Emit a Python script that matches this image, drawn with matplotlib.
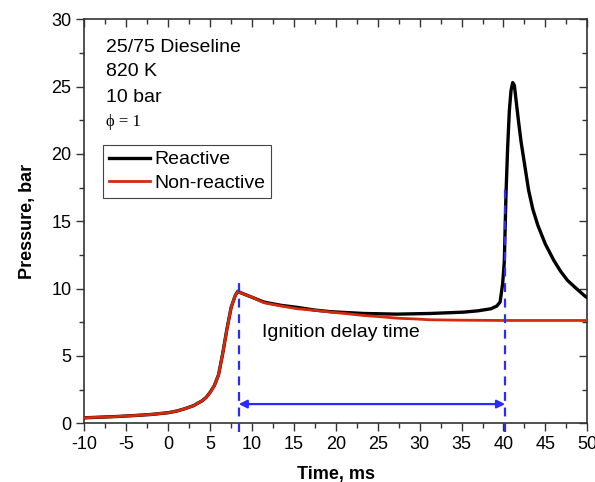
import matplotlib
matplotlib.use("Agg")
import matplotlib.pyplot as plt
from matplotlib.ticker import MultipleLocator

plt.rcParams["font.family"] = ["Liberation Sans", "DejaVu Sans"]

# ── pressure traces (ms, bar) ────────────────────────────────────────────────

t_nonreact = [-10, -8, -6, -4, -2, 0, 1, 2, 3, 4, 4.5, 5, 5.5, 6, 6.5, 7, 7.5,
              8, 8.3, 8.6, 9.4, 10, 11.4, 12.2, 13.5, 15.4, 17.5, 19.4, 21.5,
              23.3, 25.5, 27.3, 29.5, 31.3, 35, 40, 45, 50]
p_nonreact = [0.40, 0.45, 0.50, 0.57, 0.65, 0.78, 0.90, 1.08, 1.30, 1.65, 1.90,
              2.30, 2.80, 3.60, 5.20, 7.00, 8.60, 9.50, 9.80, 9.70, 9.50, 9.35,
              8.95, 8.85, 8.70, 8.50, 8.38, 8.25, 8.12, 8.00, 7.90, 7.80, 7.74,
              7.68, 7.65, 7.63, 7.63, 7.63]

t_react = [-10, -8, -6, -4, -2, 0, 1, 2, 3, 4, 4.5, 5, 5.5, 6, 6.5, 7, 7.5,
           8, 8.3, 8.6, 9.4, 10, 11.4, 12.2, 13.5, 15.4, 17.5, 19.4, 23.3,
           27.3, 31.3, 35.3, 37, 38.5, 39.2, 39.6, 39.9, 40.1, 40.3, 40.5,
           40.7, 40.9, 41.1, 41.3, 41.5, 41.8, 42.1, 42.5, 43.0, 43.5, 44.1,
           45, 46.0, 46.8, 47.65, 48.7, 49.8, 50]
p_react = [0.40, 0.45, 0.50, 0.57, 0.65, 0.78, 0.90, 1.08, 1.30, 1.65, 1.90,
           2.30, 2.80, 3.60, 5.20, 7.00, 8.60, 9.50, 9.80, 9.70, 9.50, 9.35,
           9.00, 8.90, 8.75, 8.60, 8.40, 8.28, 8.15, 8.10, 8.15, 8.25, 8.35,
           8.50, 8.70, 9.00, 10.35, 12.0, 17.0, 20.5, 23.2, 24.7, 25.3, 25.1,
           24.0, 22.4, 20.9, 19.3, 17.3, 15.9, 14.7, 13.3, 12.1, 11.3, 10.6,
           10.0, 9.40, 9.32]

# ignition delay markers
t_start = 8.4
t_ignite = 40.2

# ── plot ──────────────────────────────────────────────────────────────────────

fig = plt.figure(figsize=(5.95, 4.82), dpi=100)
ax = fig.add_axes([0.142, 0.122, 0.845, 0.838])

ax.plot(t_react, p_react, color="black", lw=2.4, label="Reactive", zorder=3)
ax.plot(t_nonreact, p_nonreact, color="#d42a0c", lw=2.0, label="Non-reactive",
        zorder=4)

blue = "#2b2bff"
ax.plot([t_start, t_start], [-0.65, 10.6], color=blue, lw=1.6,
        ls=(0, (4, 3)), clip_on=False, zorder=5)
ax.plot([t_ignite, t_ignite], [-0.65, 17.4], color=blue, lw=1.6,
        ls=(0, (4, 3)), clip_on=False, zorder=5)
ax.annotate("", xy=(t_start, 1.42), xytext=(t_ignite, 1.42),
            arrowprops=dict(arrowstyle="<|-|>", color=blue, lw=1.6,
                            mutation_scale=12, shrinkA=0, shrinkB=0))
ax.text(11.2, 6.7, "Ignition delay time", fontsize=14, va="center")

ax.text(-7.45, 27.9, "25/75 Dieseline", fontsize=14, va="center")
ax.text(-7.45, 26.1, "820 K", fontsize=14, va="center")
ax.text(-7.45, 24.2, "10 bar", fontsize=14, va="center")
ax.text(-7.45, 22.4, "ϕ = 1", fontsize=12, va="center",
        family=["Liberation Serif", "DejaVu Serif"])

leg = ax.legend(loc="upper left", bbox_to_anchor=(0.037, 0.689),
                borderaxespad=0, fontsize=14, handlelength=2.1,
                handletextpad=0.25, labelspacing=0.3, borderpad=0.3,
                fancybox=False, framealpha=1)
leg.get_frame().set_edgecolor("#444444")
leg.get_frame().set_linewidth(0.8)

ax.set_xlim(-10, 50)
ax.set_ylim(0, 30)
ax.xaxis.set_major_locator(MultipleLocator(5))
ax.xaxis.set_minor_locator(MultipleLocator(2.5))
ax.yaxis.set_major_locator(MultipleLocator(5))
ax.yaxis.set_minor_locator(MultipleLocator(2.5))

ax.tick_params(which="both", direction="out", labelsize=13, width=1,
               color="#333333")
ax.tick_params(which="major", length=6)
ax.tick_params(which="minor", length=3.5)
ax.tick_params(which="both", top=True, right=True)
# top and right ticks point inward
for t in ax.xaxis.get_ticklines(minor=False)[1::2] + ax.xaxis.get_ticklines(minor=True)[1::2]:
    t.set_marker(3)
for t in ax.yaxis.get_ticklines(minor=False)[1::2] + ax.yaxis.get_ticklines(minor=True)[1::2]:
    t.set_marker(0)

for s in ax.spines.values():
    s.set_linewidth(1.2)
    s.set_color("#333333")

ax.set_xticklabels([f"{v:g}" for v in ax.get_xticks()])
ax.set_xlabel("Time, ms", fontsize=13, fontweight="bold", labelpad=9)
ax.set_ylabel("Pressure, bar", fontsize=13, fontweight="bold", labelpad=11)

fig.savefig("out.png", dpi=100)
